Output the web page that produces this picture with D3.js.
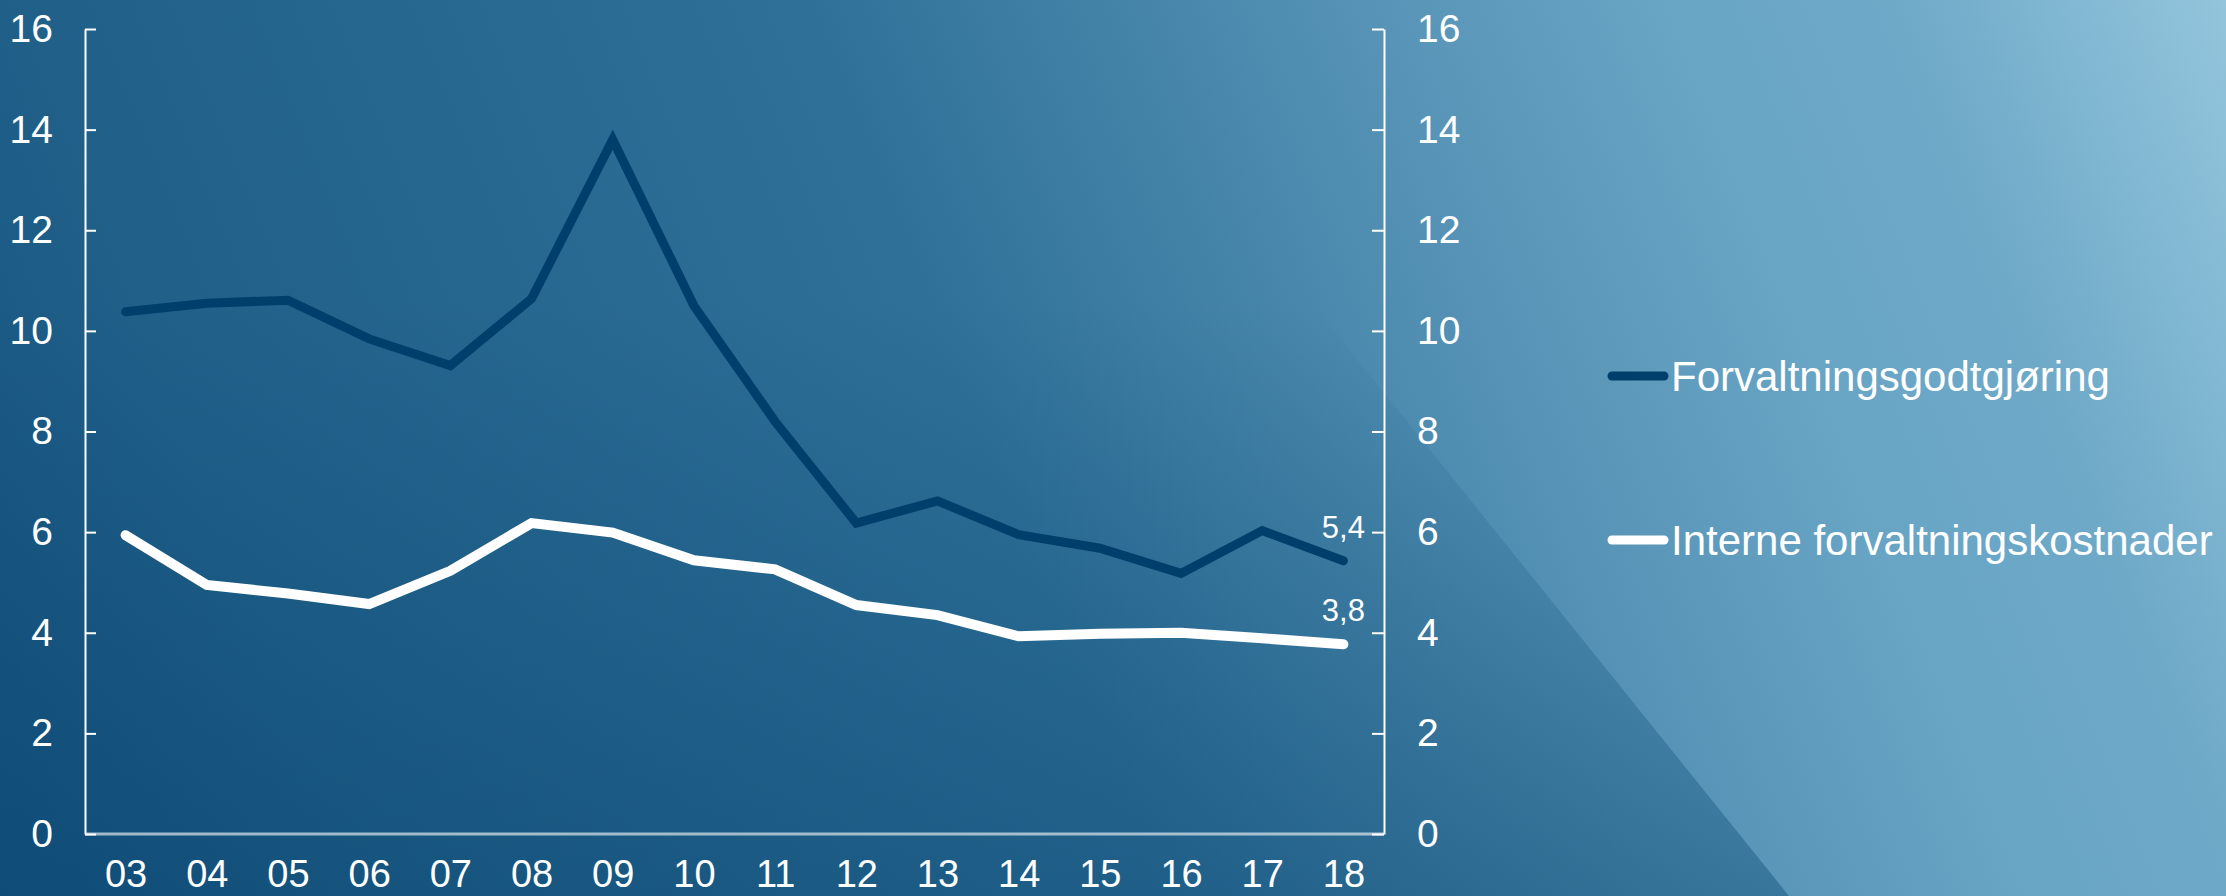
<!DOCTYPE html>
<html>
<head>
<meta charset="utf-8">
<script src="https://cdn.jsdelivr.net/npm/d3@7"></script>
<style>
    html, body { margin: 0; padding: 0; overflow: hidden; }
    svg { display: block; font-family: "Liberation Sans", Arial, sans-serif; }
</style>
</head>
<body>
<div id="chart"></div>
<script>
// år (to siffer) og verdier, i basispunkter
const years = ["03", "04", "05", "06", "07", "08", "09", "10", "11", "12", "13", "14", "15", "16", "17", "18"];
const forvaltningsgodtgjoring = [10.38, 10.55, 10.61, 9.84, 9.31, 10.64, 13.8, 10.5, 8.2, 6.18, 6.62, 5.95, 5.68, 5.18, 6.03, 5.43];
const interneKostnader = [5.94, 4.95, 4.78, 4.57, 5.23, 6.18, 5.99, 5.44, 5.26, 4.55, 4.35, 3.93, 3.98, 4.0, 3.89, 3.77];
const yTicks = [0, 2, 4, 6, 8, 10, 12, 14, 16];
const seriesNames = ["Forvaltningsgodtgjøring", "Interne forvaltningskostnader"];
const endLabels = ["5,4", "3,8"];

const W = 2226, H = 896;
const plot = { left: 85, right: 1384, top: 29, bottom: 834 };

const svg = d3.select("#chart").append("svg")
    .attr("width", W)
    .attr("height", H);

const defs = svg.append("defs");

// bakgrunnsgradient, mørk nede til venstre, lys oppe til høyre
const bg = defs.append("linearGradient")
    .attr("id", "bg")
    .attr("gradientUnits", "userSpaceOnUse")
    .attr("x1", 0).attr("y1", H)
    .attr("x2", W).attr("y2", 0);
[[0, "#15537f"], [0.14, "#1f5f88"], [0.45, "#2e7098"], [0.66, "#5592b5"], [0.78, "#68a4c4"], [0.87, "#6ea9c8"], [1, "#93c5dc"]]
    .forEach(([o, c]) => bg.append("stop").attr("offset", o).attr("stop-color", c));

// mørk skrå flate som blekner mot toppen
const shade = defs.append("linearGradient")
    .attr("id", "shade")
    .attr("gradientUnits", "userSpaceOnUse")
    .attr("x1", 0).attr("y1", 300)
    .attr("x2", 0).attr("y2", H);
shade.append("stop").attr("offset", 0).attr("stop-color", "#05416c").attr("stop-opacity", 0);
shade.append("stop").attr("offset", 1).attr("stop-color", "#05416c").attr("stop-opacity", 0.38);

svg.append("rect")
    .attr("width", W)
    .attr("height", H)
    .attr("fill", "url(#bg)");

svg.append("polygon")
    .attr("points", `0,0 1068,0 1789,${H} 0,${H}`)
    .attr("fill", "url(#shade)");

// skalaer
const x = d3.scalePoint()
    .domain(years)
    .range([plot.left, plot.right])
    .padding(0.5);

const y = d3.scaleLinear()
    .domain([0, 16])
    .range([plot.bottom, plot.top]);

// akser
const axisStyle = (size) => (g) => {
    g.selectAll("text")
        .attr("fill", "#ffffff")
        .style("font-size", size + "px");
    g.selectAll(".tick line").attr("stroke", "#ffffff").attr("stroke-width", 2);
};

svg.append("g")
    .attr("transform", `translate(${plot.left},0)`)
    .call(d3.axisLeft(y).tickValues(yTicks).tickSizeInner(-11).tickSizeOuter(0).tickPadding(32))
    .call(g => g.select(".domain").attr("stroke", "#ffffff").attr("stroke-width", 2))
    .call(axisStyle(39));

svg.append("g")
    .attr("transform", `translate(${plot.right},0)`)
    .call(d3.axisRight(y).tickValues(yTicks).tickSizeInner(-12).tickSizeOuter(0).tickPadding(33))
    .call(g => g.select(".domain").attr("stroke", "#ffffff").attr("stroke-width", 2))
    .call(axisStyle(39));

svg.append("g")
    .attr("transform", `translate(0,${plot.bottom})`)
    .call(d3.axisBottom(x).tickSize(0).tickSizeOuter(0).tickPadding(26))
    .call(g => g.select(".domain")
        .attr("d", `M${plot.left},0H${plot.right}`)
        .attr("stroke", "rgba(255,255,255,0.6)")
        .attr("stroke-width", 3))
    .call(axisStyle(38));

// linjer
const series = [
    { name: seriesNames[0], values: forvaltningsgodtgjoring, color: "#003f6b", width: 9, label: endLabels[0] },
    { name: seriesNames[1], values: interneKostnader, color: "#ffffff", width: 10, label: endLabels[1] }
];

const line = d3.line()
    .x((d, i) => x(years[i]))
    .y(d => y(d));

svg.append("g")
    .selectAll("path")
    .data(series)
    .enter()
    .append("path")
    .attr("fill", "none")
    .attr("stroke", d => d.color)
    .attr("stroke-width", d => d.width)
    .attr("stroke-linejoin", "miter")
    .attr("stroke-linecap", "round")
    .attr("d", d => line(d.values));

// sluttverdier
svg.append("g")
    .selectAll("text")
    .data(series)
    .enter()
    .append("text")
    .attr("x", x(years[years.length - 1]))
    .attr("y", d => y(d.values[d.values.length - 1]) - 23)
    .attr("text-anchor", "middle")
    .attr("fill", "#ffffff")
    .style("font-size", "31px")
    .text(d => d.label);

// tegnforklaring
const legend = svg.append("g")
    .selectAll("g")
    .data(series)
    .enter()
    .append("g")
    .attr("transform", (d, i) => `translate(1612,${376 + i * 164})`);

legend.append("line")
    .attr("x1", 0).attr("x2", 52)
    .attr("stroke", d => d.color)
    .attr("stroke-width", 9)
    .attr("stroke-linecap", "round");

legend.append("text")
    .attr("x", 59)
    .attr("y", 15)
    .attr("fill", "#ffffff")
    .style("font-size", "42px")
    .text(d => d.name);
</script>
</body>
</html>
